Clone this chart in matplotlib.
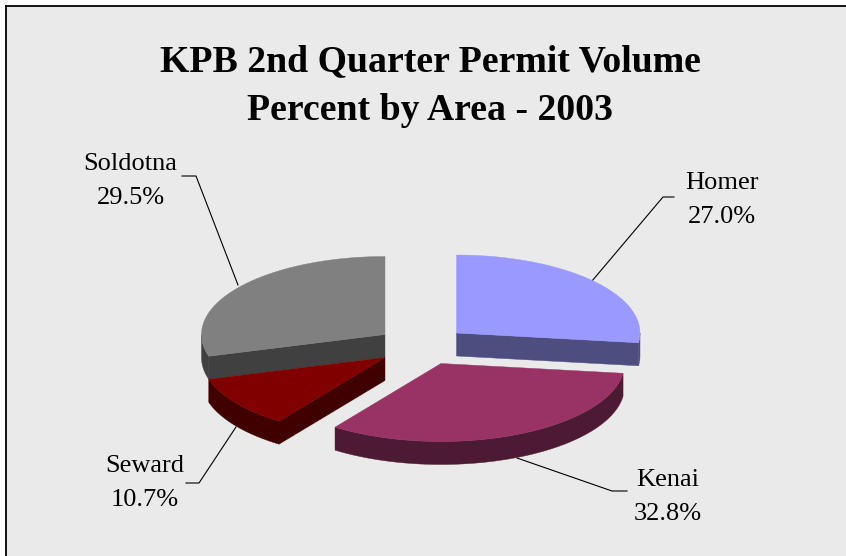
# KPB permit volume - exploded 3D style pie

import numpy as np
import matplotlib
matplotlib.use("Agg")
import matplotlib.pyplot as plt
from matplotlib.patches import Polygon, Rectangle

# data
areas = ["Homer", "Kenai", "Seward", "Soldotna"]
percents = [27.0, 32.8, 10.7, 29.5]
top_colors = ["#9999ff", "#993366", "#800000", "#808080"]
wall_colors = ["#4d4d80", "#4d1a33", "#400000", "#404040"]
title_lines = ["KPB 2nd Quarter Permit Volume", "Percent by Area - 2003"]

# layout in pixels
centers = [(456.5, 333), (441, 363.5), (385, 357.5), (385, 334.5)]
rx, ry, depth = 183.5, 78, 23
label_pos = [(722, 200), (668, 497), (144.5, 483), (130.5, 181)]
leaders = [
    [(674, 197), (663, 197), (592, 281)],
    [(517, 458), (612, 491), (627, 491)],
    [(186, 483), (199, 483), (236, 427)],
    [(182, 176), (196, 176), (238, 285)],
]

plt.rcParams["font.family"] = ["Liberation Serif", "DejaVu Serif"]

fig = plt.figure(figsize=(8.46, 5.56), dpi=100, facecolor="white")
ax = fig.add_axes([0, 0, 1, 1])
ax.set_xlim(0, 846)
ax.set_ylim(556, 0)
ax.axis("off")

ax.add_patch(Rectangle((6, 6), 840, 550, facecolor="#eaeaea", edgecolor="none", zorder=0))
ax.plot([6, 6], [556, 6], color="black", lw=1.3, zorder=1, solid_capstyle="projecting")
ax.plot([6, 846], [6, 6], color="black", lw=1.3, zorder=1, solid_capstyle="projecting")


def rim(c, deg):
    t = np.radians(deg)
    return np.column_stack([c[0] + rx * np.sin(t), c[1] - ry * np.cos(t)])


def draw_slice(c, a, b, top, wall, z):
    # curved outer wall, only the part facing the viewer
    lo, hi = max(a, 90), min(b, 270)
    if lo < hi:
        arc = rim(c, np.linspace(lo, hi, 80))
        pts = np.vstack([arc, (arc + [0, depth])[::-1]])
        ax.add_patch(Polygon(pts, facecolor=wall, edgecolor=wall, lw=0.3, zorder=z))
    # flat cut faces that look towards the viewer
    for deg in (a, b):
        p = rim(c, deg)[0]
        faces_front = (deg == b and 0 < deg < 180) or (deg == a and 180 < deg < 360)
        if faces_front:
            quad = [c, p, p + [0, depth], (c[0], c[1] + depth)]
            ax.add_patch(Polygon(quad, facecolor=wall, edgecolor=wall, lw=0.3, zorder=z))
    # top
    arc = rim(c, np.linspace(a, b, 160))
    pts = np.vstack([[c], arc])
    ax.add_patch(Polygon(pts, facecolor=top, edgecolor=top, lw=0.3, zorder=z + 0.5))


edges = np.concatenate([[0], np.cumsum(percents)]) * 3.6
draw_order = [3, 2, 0, 1]
for n, i in enumerate(draw_order):
    draw_slice(centers[i], edges[i], edges[i + 1], top_colors[i], wall_colors[i], 3 + n)

for line in leaders:
    xs, ys = zip(*line)
    ax.plot(xs, ys, color="black", lw=0.8, zorder=2)

for area, pct, pos in zip(areas, percents, label_pos):
    ax.text(pos[0], pos[1], f"{area}\n{pct:.1f}%", ha="center", va="center",
            fontsize=19, linespacing=1.73, color="black", zorder=10)

ax.text(430, 62, title_lines[0], ha="center", va="center", fontsize=27.2, fontweight="bold")
ax.text(430, 110, title_lines[1], ha="center", va="center", fontsize=27.2, fontweight="bold")

fig.savefig("out.png", dpi=100, facecolor="white")
